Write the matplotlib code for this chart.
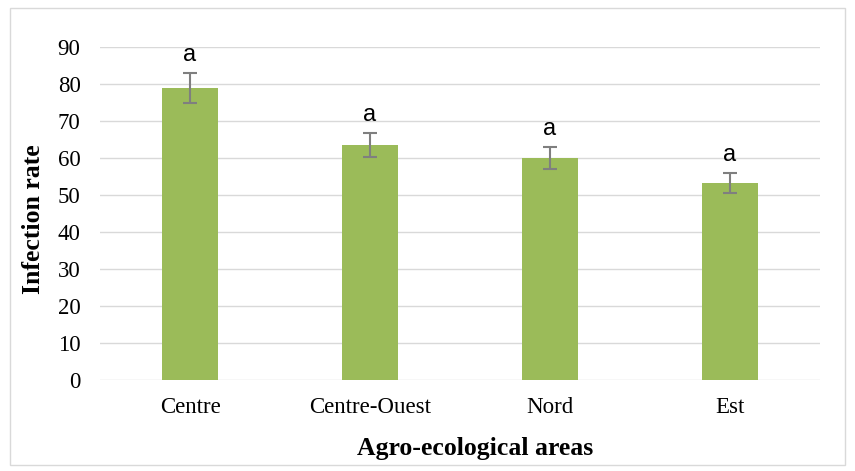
import matplotlib
matplotlib.use("Agg")
import matplotlib.pyplot as plt
from matplotlib.patches import Rectangle

areas = ["Centre", "Centre-Ouest", "Nord", "Est"]
infection_rate = [79.0, 63.5, 60.0, 53.2]
std_error = [4.0, 3.3, 3.0, 2.7]
letters = ["a", "a", "a", "a"]
y_ticks = [0, 10, 20, 30, 40, 50, 60, 70, 80, 90]

fig = plt.figure(figsize=(8.55, 4.71), dpi=100)
fig.patches.append(Rectangle((10 / 855, 1 - 465 / 471), 835 / 855, 457 / 471,
                             transform=fig.transFigure, fill=False,
                             edgecolor="#D9D9D9", linewidth=1.0))

ax = fig.add_axes([100 / 855, 1 - 380 / 471, 720 / 855, 333 / 471])
x = list(range(len(areas)))
ax.bar(x, infection_rate, width=0.31, color="#9BBB59", zorder=2)
ax.errorbar(x, infection_rate, yerr=std_error, fmt="none", ecolor="#7F7F7F",
            elinewidth=1.5, capsize=5, capthick=1.5, zorder=3)

for xi, v, e, t in zip(x, infection_rate, std_error, letters):
    ax.annotate(t, (xi, v + e), xytext=(0, 5), textcoords="offset points",
                ha="center", va="bottom", fontsize=17,
                family="Liberation Sans")

ax.set_xlim(-0.5, len(areas) - 0.5)
ax.set_ylim(0, 90)
ax.set_yticks(y_ticks)
ax.set_xticks(x)
ax.set_xticklabels(areas)
ax.grid(axis="y", color="#D9D9D9", linewidth=1.0, zorder=0)
ax.set_axisbelow(True)
for s in ax.spines.values():
    s.set_visible(False)
ax.tick_params(length=0, labelsize=16.5, pad=14)
ax.tick_params(axis="x", pad=12)
for lab in ax.get_xticklabels() + ax.get_yticklabels():
    lab.set_family("Liberation Serif")

ax.set_ylabel("Infection rate", family="Liberation Serif", fontsize=18.5,
              fontweight="bold", va="center")
ax.yaxis.set_label_coords(-0.093, 0.483)
ax.set_xlabel("Agro-ecological areas", family="Liberation Serif", fontsize=18.5,
              fontweight="bold", va="center")
ax.xaxis.set_label_coords(0.521, -0.207)

fig.savefig("out.png", dpi=100)
